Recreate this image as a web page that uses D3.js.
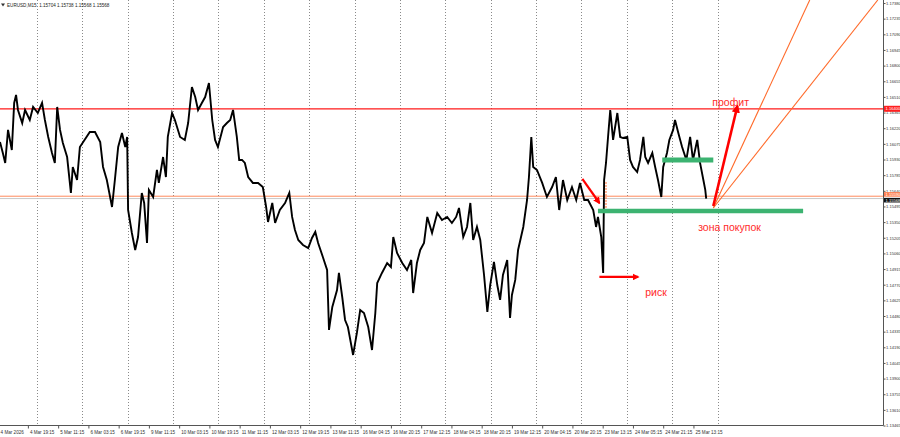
<!DOCTYPE html>
<html><head><meta charset="utf-8">
<script src="https://cdn.jsdelivr.net/npm/d3@7/dist/d3.min.js"></script>
<style>html,body{margin:0;padding:0;background:#fff;overflow:hidden}svg{display:block}</style>
</head><body><svg id="c" width="900" height="437"></svg>
<script>
// ---------- data ----------
const symbolTitle = "EURUSD,M15";
const ohlcHeader = ["1.15704", "1.15738", "1.15568", "1.15568"];

// M15 bar index of each sampled point
const bars = [0,6,11,17,25,30,34,38,47,53,63,70,80,89,95,102,110,116,121,127,133,142,150,154,163,169,176,190,201,212,218,226,237,243,250,258,265,269,271,279,286,292,300,305,311,315,324,332,336,345,351,355,364,370,381,391,398,406,413,419,427,434,442,449,455,461,472,480,487,493,501,506,
512,518,525,535,546,556,563,567,576,582,592,603,612,618,624,631,641,652,660,667,673,683,692,696,703,713,717,724,730,736,747,755,762,770,779,787,794,798,808,819,827,832,840,851,861,870,874,882,889,897,904,914,925,935,946,956,965,971,980,988,995,
1001,1009,1016,1024,1031,1037,1045,1052,1058,1064,1073,1079,1083,1090,1096,1107,1115,1119,1124,1128,1136,1147,1157,1168,1176,1183,1191,1200,1210,1219,1227,1236,1244,1255,1261,1265,1272,1276,1278,1282,1287,1291,1297,1306,1312,1318,1327,1333,1339,1348,1354,1361,1365,1371,1380,1386,1392,1399,1403,1411,1416,1424,1428,1435,1443,1452,1460,1466,1475,1481,1488,1492,1494];

// EURUSD price at each sampled point
const prices = [1.16092,1.15990,1.15898,1.16204,1.16018,1.16454,1.16528,1.16389,1.16268,1.16389,
1.16296,1.16417,1.16361,1.16454,1.16296,1.16139,1.15990,1.15898,1.16417,1.16204,
1.16083,1.15953,1.15620,1.15861,1.15740,1.16046,1.16092,1.16185,1.16185,1.16092,
1.15861,1.15740,1.15490,1.15740,1.16046,1.16176,1.16046,1.16139,1.15462,1.15249,
1.15092,1.15212,1.15620,1.15527,1.15157,1.15648,1.15583,1.15833,1.15713,1.15953,
1.15768,1.16139,1.16361,1.16296,1.16139,1.16111,1.16268,1.16602,1.16509,1.16389,
1.16454,1.16509,1.16639,1.16296,1.16111,1.16046,1.16231,1.16268,1.16296,1.16389,
1.16139,1.15926,
1.15926,1.15898,1.15768,1.15713,1.15713,1.15675,1.15490,1.15351,1.15527,1.15342,
1.15462,1.15527,1.15620,1.15398,1.15277,1.15184,1.15138,1.15110,1.15203,1.15259,
1.15157,1.15027,1.14906,1.14351,1.14564,1.14721,1.14879,1.14656,1.14443,1.14378,
1.14119,1.14323,1.14536,1.14508,1.14378,1.14165,1.14508,1.14786,1.14879,1.14971,
1.14934,1.15212,1.15064,1.14971,1.14906,1.14999,1.14693,1.14971,1.15092,1.15157,
1.15398,1.15249,1.15435,1.15370,1.15398,1.15342,1.15398,1.15481,1.15212,1.15305,
1.15527,
1.15184,1.15305,1.15184,1.14860,1.14517,1.14767,1.14981,1.14767,1.14629,1.14860,
1.14999,1.14462,1.14675,1.14814,1.15092,1.15305,1.15555,1.15768,1.16139,1.15861,
1.15833,1.15713,1.15583,1.15675,1.15768,1.15462,1.15740,1.15555,1.15675,1.15555,
1.15713,1.15555,1.15555,1.15462,1.15305,1.15398,1.15212,1.14879,1.15740,1.15898,
1.16176,1.16389,1.16111,1.16361,1.16139,1.16129,1.16139,1.15926,1.15861,1.15814,
1.15926,1.16139,1.15953,1.15898,1.15990,1.15861,1.15740,1.15583,1.15861,1.15990,
1.16111,1.16204,1.16296,1.16176,1.16046,1.15926,1.16139,1.15926,1.16111,1.15898,
1.15740,1.15648,1.15568];

const priceTicks = [1.17380,1.17235,1.17090,1.16945,1.16800,1.16655,1.16510,1.16365,1.16220,1.16075,1.15930,1.15785,1.15640,1.15495,1.15350,1.15205,1.15060,1.14915,1.14770,1.14625,1.14480,1.14335,1.14190,1.14045,1.13900,1.13755,1.13610,1.13465];

const timeLabels = ["4 Mar 2026","4 Mar 19:15","5 Mar 11:15","6 Mar 03:15","6 Mar 19:15","9 Mar 11:15","10 Mar 03:15","10 Mar 19:15","11 Mar 11:15","12 Mar 03:15","12 Mar 19:15","13 Mar 11:15","16 Mar 04:15","16 Mar 20:15","17 Mar 12:15","18 Mar 04:15","18 Mar 20:15","19 Mar 12:15","20 Mar 04:15","20 Mar 20:15","23 Mar 13:15","24 Mar 05:15","24 Mar 21:15","25 Mar 13:15"];
const timeBars = [-3,59,123,187,251,315,379,443,507,571,635,699,763,827,891,955,1019,1083,1147,1211,1275,1339,1403,1467];
const dayBars = [78,174,270,366,462,558,654,750,846,942,1038,1134,1230,1326,1422,1518];

const resistanceLevel = 1.16400;
const supportLevel = 1.15590;
const bidPrice = 1.15568;
const buyZoneBars = [1265, 1699], buyZonePrice = 1.15453;
const upperZoneBars = [1401, 1509], upperZonePrice = 1.15926;
const entryMarkBar = 1282, entryMarkPrices = [1.15722, 1.15481];
const dropArrow = [[1232, 1.15750], [1268, 1.15527]];
const riskArrow = [[1268, 1.14842], [1350, 1.14842]];
const profitArrow = [[1509, 1.15499], [1560, 1.16426]];
const fanLines = [[[1509, 1.15481], [1713, 1.17408]], [[1509, 1.15481], [1857, 1.17408]]];
const labelTexts = [
  {text: "профит", bar: 1507, price: 1.16426},
  {text: "зона покупок", bar: 1477, price: 1.15271},
  {text: "риск", bar: 1365, price: 1.14666}
];

// ---------- drawing ----------
const plotR = 883, plotB = 425;
const svg = d3.select("#c");
const x = d3.scaleLinear().domain([0, 1868]).range([0, plotR]);
const y = d3.scaleLinear().domain([1.17408, 1.13470]).range([0, plotB]);
const FONT = "'Liberation Sans', Arial, sans-serif";
const AX = 4.1;

svg.append("rect").attr("width", 900).attr("height", 437).attr("fill", "#fff");
const defs = svg.append("defs");
defs.append("clipPath").attr("id", "plot").append("rect").attr("width", plotR).attr("height", plotB);
defs.append("marker").attr("id", "ah").attr("viewBox", "0 0 10 10").attr("refX", 8).attr("refY", 5)
  .attr("markerWidth", 3.2).attr("markerHeight", 3.2).attr("orient", "auto").attr("markerUnits", "strokeWidth")
  .append("path").attr("d", "M0,0 L10,5 L0,10 z").attr("fill", "#ff0000");

const g = svg.append("g").attr("clip-path", "url(#plot)");

// vertical dotted day grid
g.selectAll("line.grid").data(dayBars).join("line").attr("class", "grid")
  .attr("x1", d => Math.round(x(d)) + 0.5).attr("x2", d => Math.round(x(d)) + 0.5)
  .attr("y1", 0).attr("y2", plotB)
  .attr("stroke", "#8a8a8a").attr("stroke-width", 1).attr("stroke-dasharray", "1,2");

// horizontal levels
const hline = (p, col, w) => g.append("line").attr("x1", 0).attr("x2", plotR)
  .attr("y1", y(p)).attr("y2", y(p)).attr("stroke", col).attr("stroke-width", w);
hline(bidPrice, "#c8c8c8", 1);
hline(supportLevel, "#ff8a5c", 1);
hline(resistanceLevel, "#ff1a1a", 1.3);

// price path
const line = d3.line().x((d, i) => x(bars[i])).y(d => y(d));
g.append("path").datum(prices).attr("d", line).attr("fill", "none")
  .attr("stroke", "#000").attr("stroke-width", 1.9).attr("stroke-linejoin", "miter");

// green zones
g.append("line").attr("x1", x(buyZoneBars[0])).attr("x2", x(buyZoneBars[1]))
  .attr("y1", y(buyZonePrice)).attr("y2", y(buyZonePrice)).attr("stroke", "#3cb371").attr("stroke-width", 4.5);
g.append("line").attr("x1", x(upperZoneBars[0])).attr("x2", x(upperZoneBars[1]))
  .attr("y1", y(upperZonePrice)).attr("y2", y(upperZonePrice)).attr("stroke", "#3cb371").attr("stroke-width", 5);

// entry marker
g.append("line").attr("x1", x(entryMarkBar)).attr("x2", x(entryMarkBar))
  .attr("y1", y(entryMarkPrices[0])).attr("y2", y(entryMarkPrices[1]))
  .attr("stroke", "#ff6a2a").attr("stroke-width", 1).attr("stroke-dasharray", "2,1");

// fan lines
fanLines.forEach(l => g.append("line")
  .attr("x1", x(l[0][0])).attr("y1", y(l[0][1])).attr("x2", x(l[1][0])).attr("y2", y(l[1][1]))
  .attr("stroke", "#ff6a2a").attr("stroke-width", 1.1));

// arrows
const arrow = (a, w) => g.append("line")
  .attr("x1", x(a[0][0])).attr("y1", y(a[0][1])).attr("x2", x(a[1][0])).attr("y2", y(a[1][1]))
  .attr("stroke", "#ff0000").attr("stroke-width", w).attr("marker-end", "url(#ah)");
arrow(dropArrow, 2.2);
arrow(riskArrow, 2.2);
arrow(profitArrow, 2.6);

// annotation texts
g.selectAll("text.ann").data(labelTexts).join("text").attr("class", "ann")
  .attr("x", d => x(d.bar)).attr("y", d => y(d.price)).text(d => d.text)
  .attr("fill", "#ff2a2a").attr("font-family", FONT).attr("font-size", 10.5);

// frame
svg.append("line").attr("x1", plotR + 0.5).attr("x2", plotR + 0.5).attr("y1", 0).attr("y2", plotB + 0.5).attr("stroke", "#555");
svg.append("line").attr("x1", 0).attr("x2", plotR + 0.5).attr("y1", plotB + 0.5).attr("y2", plotB + 0.5).attr("stroke", "#555");

// right price axis
const ya = svg.append("g").attr("transform", `translate(${plotR + 0.5},0)`)
  .call(d3.axisRight(y).tickValues(priceTicks).tickFormat(d3.format(".5f")).tickSize(2).tickPadding(0.5));
ya.select(".domain").remove();
ya.selectAll("text").attr("font-family", FONT).attr("font-size", AX).attr("fill", "#333");
ya.selectAll("line").attr("stroke", "#555");

// price tags
const tag = (p, dy, bg, fg, h) => {
  const t = svg.append("g").attr("transform", `translate(${plotR + 1},${y(p) + dy})`);
  t.append("rect").attr("x", 0).attr("y", -h / 2).attr("width", 17).attr("height", h).attr("fill", bg);
  t.append("text").attr("x", 1.5).attr("y", 1.4).text(d3.format(".5f")(p))
    .attr("font-family", FONT).attr("font-size", AX).attr("fill", fg);
};
tag(resistanceLevel, 0, "#ff2020", "#fff", 6);
tag(supportLevel, -1.8, "#ff7f50", "#fff", 4.6);
tag(bidPrice, 1.6, "#111", "#fff", 4.6);

// bottom time axis
const xa = svg.append("g").attr("transform", `translate(0,${plotB + 0.5})`)
  .call(d3.axisBottom(x).tickValues(timeBars).tickFormat((d, i) => timeLabels[i]).tickSize(3).tickPadding(2));
xa.select(".domain").remove();
xa.selectAll("text").attr("text-anchor", "start").attr("dx", 1.5)
  .attr("font-family", FONT).attr("font-size", 4.6).attr("fill", "#333");
xa.selectAll("line").attr("stroke", "#555");

// header
svg.append("path").attr("d", "M1,3.5 L5,3.5 L3,6.5 Z").attr("fill", "#333");
svg.append("text").attr("x", 7).attr("y", 6.5).text(symbolTitle + "  " + ohlcHeader.join(" "))
  .attr("font-family", FONT).attr("font-size", 4.6).attr("fill", "#222").attr("xml:space", "preserve");
</script></body></html>
